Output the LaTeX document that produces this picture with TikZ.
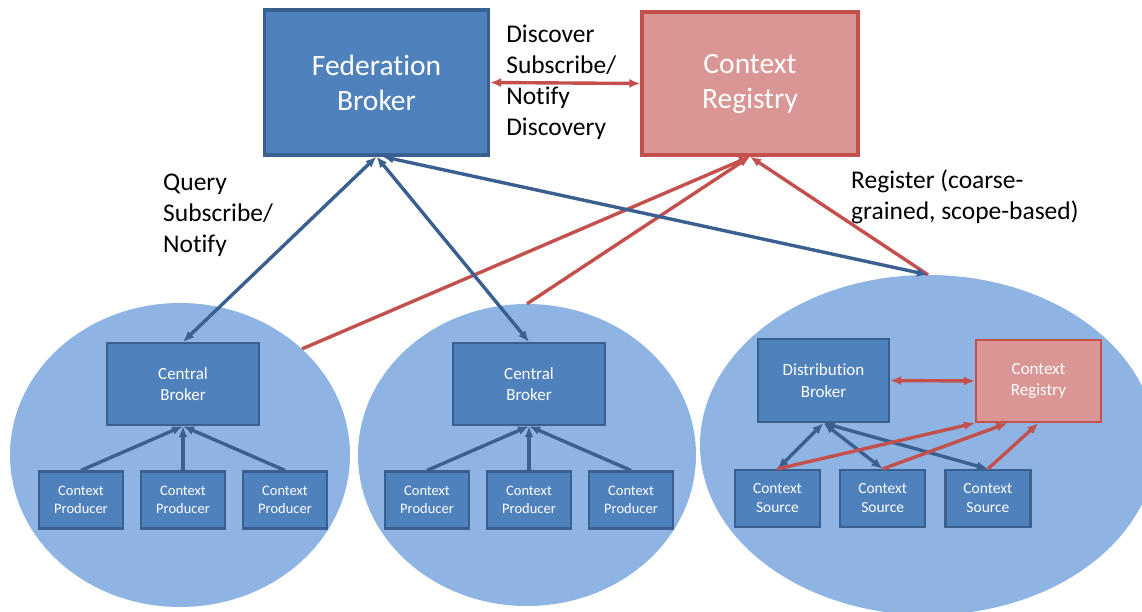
\documentclass[tikz,border=0pt]{standalone}
\usepackage{fontspec}
\setmainfont{Carlito}[Ligatures=NoCommon]
\usetikzlibrary{arrows.meta,shapes.geometric}
\usetikzlibrary{positioning}
\tikzset{>={Latex[length=11pt,width=9pt]}}
\definecolor{boxblue}{RGB}{79,129,189}
\definecolor{lineblue}{RGB}{58,96,146}
\definecolor{cloudblue}{RGB}{142,180,227}
\definecolor{regred}{RGB}{217,150,148}
\definecolor{linered}{RGB}{196,80,77}

\begin{document}
\begin{tikzpicture}[x=1pt,y=1pt,
	cluster/.style={ellipse,fill=cloudblue,inner sep=0pt},
	bluebox/.style={draw=lineblue,fill=boxblue,text=white,align=center,inner sep=0pt,line width=2.2pt},
	redbox/.style={draw=linered,fill=regred,text=white,align=center,inner sep=0pt,line width=2.2pt},
	brokerbox/.style={bluebox,minimum width=152pt,minimum height=82pt,font=\fontsize{17}{21}\selectfont},
	prodbox/.style={bluebox,minimum width=84pt,minimum height=57pt,font=\fontsize{14.5}{17.5}\selectfont},
	srcbox/.style={bluebox,minimum width=85pt,minimum height=57pt,font=\fontsize{15.5}{19}\selectfont},
	blueline/.style={draw=lineblue,line width=3.4pt},
	redline/.style={draw=linered,line width=3.4pt},
	lbl/.style={align=left,inner sep=0pt,font=\fontsize{25.5}{31}\selectfont}]
	\useasboundingbox (0,0) rectangle (1142,-612);
	% domains
	\node[cluster,minimum width=340pt,minimum height=304pt] (L) at (180,-455) {};
	\node[cluster,minimum width=338pt,minimum height=302pt] (M) at (527,-455) {};
	\node[cluster,minimum width=456pt,minimum height=340pt] (R) at (928,-445) {};
	% top level
	\node[bluebox,line width=3.2pt,minimum width=224pt,minimum height=145pt,
		font=\fontsize{29.5}{35}\selectfont] (fb) at (376.5,-82.5) {Federation\\Broker};
	\node[redbox,line width=3.2pt,minimum width=216pt,minimum height=143pt,
		font=\fontsize{29.5}{35}\selectfont] (cr) at (750,-83.5) {Context\\Registry};
	\node[lbl,right=16pt of fb] (dlbl) {Discover\\Subscribe/\\Notify\\Discovery};
	\node[lbl,anchor=west] (qlbl) at (163,-215.5) {Query\\Subscribe/\\Notify};
	\node[lbl,anchor=west] (rlbl) at (851,-196.5) {Register (coarse-\\grained, scope-based)};
	% central brokers with their producers
	\begin{scope}[level distance=116pt,sibling distance=102pt,parent anchor=south,child anchor=north,
		edge from parent/.style={blueline,<-}]
	\node[brokerbox] (cb1) at (183,-384) {Central\\Broker}
		child { node[prodbox] (p1a) {Context\\Producer} }
		child { node[prodbox] (p1b) {Context\\Producer} }
		child { node[prodbox] (p1c) {Context\\Producer} };
	\node[brokerbox] (cb2) at (529,-384) {Central\\Broker}
		child { node[prodbox] (p2a) {Context\\Producer} }
		child { node[prodbox] (p2b) {Context\\Producer} }
		child { node[prodbox] (p2c) {Context\\Producer} };
	\end{scope}
	% distributed domain
	\node[bluebox,minimum width=131pt,minimum height=83pt,
		font=\fontsize{17}{21.5}\selectfont] (db) at (823.5,-380.5) {Distribution\\Broker};
	\node[redbox,minimum width=125pt,minimum height=82pt,
		font=\fontsize{17}{21.5}\selectfont] (crs) at (1038.5,-381) {Context\\Registry};
	\node[srcbox] (s1) at (777.5,-498.5) {Context\\Source};
	\node[srcbox,right=18pt of s1] (s2) {Context\\Source};
	\node[srcbox,right=18pt of s2] (s3) {Context\\Source};
	\draw[blueline,<->] (db.south) -- (s1.north);
	\draw[blueline,<->] (db.south) -- (s2.north);
	\draw[blueline,<->] (db.south) -- (s3.north);
	\draw[redline,<->] (db.east) -- (crs.west);
	\draw[redline,->] (s1.north) -- (crs.south west);
	\draw[redline,->] (s2.north) -- ([xshift=-31pt]crs.south);
	\draw[redline,->] (s3.north) -- (crs.south);
	% federation links
	\draw[redline,<->] (fb.east) -- (cr.west);
	\draw[redline,->] (L.41) -- (cr.south);
	\draw[redline,->] (M.north) -- (cr.south);
	\draw[redline,->] (R.north) -- (cr.south);
	\draw[blueline,<->] (fb.south) -- (cb1.north);
	\draw[blueline,<->] (fb.south) -- (cb2.north);
	\draw[blueline,<->] ([xshift=6pt]fb.south) -- (R.north);
\end{tikzpicture}
\end{document}
